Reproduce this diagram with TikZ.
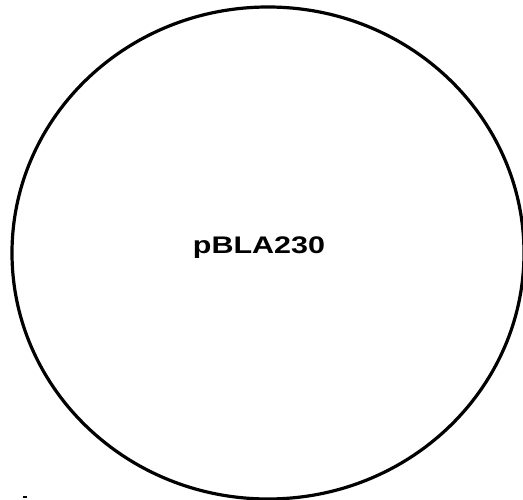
\documentclass[tikz,border=0pt]{standalone}
\usepackage{fontspec}
\setmainfont{Liberation Sans}
\begin{document}
\begin{tikzpicture}[x=1pt,y=-1pt,
  ring/.style={draw=black,line width=3.2pt},
  label/.style={font=\bfseries\fontsize{24}{26}\selectfont,inner sep=0pt,anchor=base}]
\useasboundingbox (0,0) rectangle (523,500);
\draw[ring] (268,253) ellipse [x radius=256, y radius=246];
\node[label] (name) at (259,254) {\scalebox{1.27}[1]{pBLA230}};
\coordinate (m1) at (23,497);
\coordinate (m2) at (27,497);
\draw[line width=1.5pt] (m1) -- (m2);
\end{tikzpicture}
\end{document}
